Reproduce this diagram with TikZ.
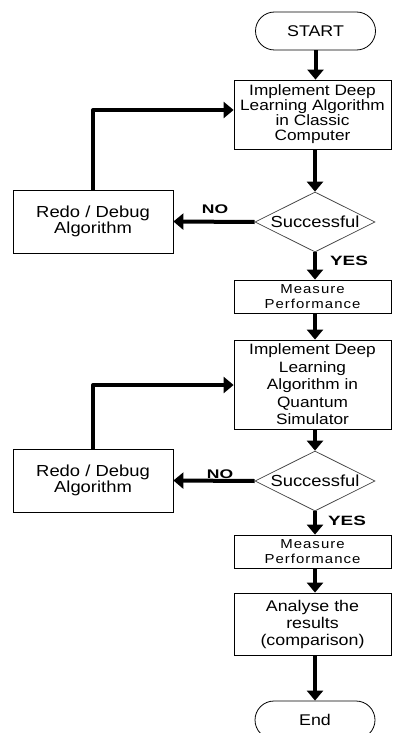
\documentclass[tikz,border=0pt]{standalone}
\usepackage{fontspec}
\setmainfont{Liberation Sans}[FakeStretch=1.15]
\newfontfamily\lblfont{Liberation Sans}[FakeStretch=1.4]
\usetikzlibrary{shapes.geometric,arrows.meta}
\begin{document}
\begin{tikzpicture}[x=1pt,y=-1pt,
  box/.style={draw=black,line width=0.8pt,minimum width=157pt,align=center,inner sep=1pt},
  term/.style={draw=black,line width=0.8pt,rounded corners=19pt,minimum width=120pt,minimum height=38pt,inner sep=0pt,font=\fontsize{15.5}{16}\selectfont},
  dec/.style={draw=black!75,line width=0.7pt,shape=diamond,minimum width=120pt,minimum height=60pt,inner sep=0pt},
  flow/.style={line width=4pt,-{Triangle[length=10pt,width=16pt]},line join=round},
  lbl/.style={font=\lblfont\bfseries\fontsize{12.5}{13}\selectfont,inner sep=0pt},
  big/.style={font=\fontsize{15}{15}\selectfont},
  mid/.style={font=\fontsize{15}{17.5}\selectfont},
  redo/.style={font=\fontsize{16}{16.7}\selectfont},
  meas/.style={font=\addfontfeatures{LetterSpace=8}\fontsize{13}{15}\selectfont}
]
\useasboundingbox (0,0) rectangle (392,733);
\fill[white] (0,0) rectangle (392,733);

\node[term] (start) at (315.5,31) {START};
\node[box,big,minimum height=69pt] (b1) at (312.5,114.5) {Implement Deep\\Learning Algorithm\\in Classic\\Computer};
\node[dec,label={[font=\fontsize{16}{16}\selectfont]center:Successful}] (d1) at (315,222) {};
\node[box,redo,minimum width=160pt,minimum height=63pt] (r1) at (93,221.5) {Redo / Debug\\Algorithm};
\node[box,meas,minimum height=33pt] (m1) at (312.5,296.5) {Measure\\Performance};
\node[box,mid,minimum height=89pt] (b2) at (312.5,384.5) {Implement Deep\\Learning\\Algorithm in\\Quantum\\Simulator};
\node[dec,label={[font=\fontsize{16}{16}\selectfont]center:Successful}] (d2) at (315,481) {};
\node[box,redo,minimum width=160pt,minimum height=63pt] (r2) at (93,480.5) {Redo / Debug\\Algorithm};
\node[box,meas,minimum height=33pt] (m2) at (312.5,551.5) {Measure\\Performance};
\node[box,font=\fontsize{15.5}{17}\selectfont,minimum height=62pt] (an) at (312.5,624) {Analyse the\\results\\(comparison)};
\node[term] (end) at (315,720) {End};

\node[lbl] (no1) at (215,209) {NO};
\node[lbl,font=\lblfont\bfseries\fontsize{13.5}{14}\selectfont] (yes1) at (349,261) {YES};
\node[lbl] (no2) at (220,474) {NO};
\node[lbl,font=\lblfont\bfseries\fontsize{13.5}{14}\selectfont] (yes2) at (347,521) {YES};

\coordinate (c1) at (93,110);
\coordinate (c2) at (93,385);

\draw[flow] (start.south) -- (start.south |- b1.north);
\draw[flow] (b1.south -| d1.north) -- (d1.north);
\draw[flow] (d1.west) -- (r1.east);
\draw[flow] (r1.north |- r1.north) -- (c1) -- (c1 -| b1.west);
\draw[flow] (d1.south) -- (d1.south |- m1.north);
\draw[flow] (m1.south -| d1.south) -- (d1.south |- b2.north);
\draw[flow] (b2.south -| d2.north) -- (d2.north);
\draw[flow] (d2.west) -- (r2.east);
\draw[flow] (r2.north) -- (c2) -- (c2 -| b2.west);
\draw[flow] (d2.south) -- (d2.south |- m2.north);
\draw[flow] (m2.south -| d2.south) -- (d2.south |- an.north);
\draw[flow] (an.south -| end.north) -- (end.north);
\end{tikzpicture}
\end{document}
